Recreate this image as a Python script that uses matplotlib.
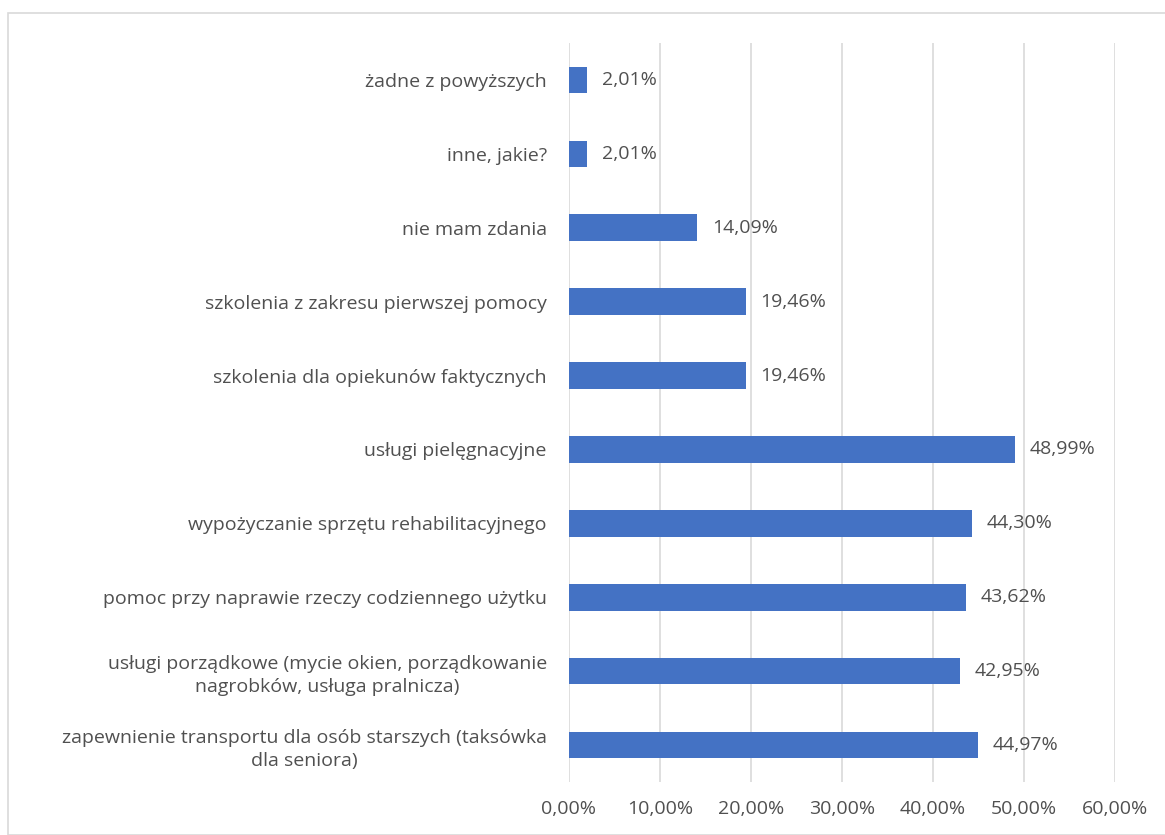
import matplotlib.pyplot as plt
from matplotlib.patches import Rectangle

# data (bottom to top)
categories = [
    'zapewnienie transportu dla osób starszych (taksówka\ndla seniora)',
    'usługi porządkowe (mycie okien, porządkowanie\nnagrobków, usługa pralnicza)',
    'pomoc przy naprawie rzeczy codziennego użytku',
    'wypożyczanie sprzętu rehabilitacyjnego',
    'usługi pielęgnacyjne',
    'szkolenia dla opiekunów faktycznych',
    'szkolenia z zakresu pierwszej pomocy',
    'nie mam zdania',
    'inne, jakie?',
    'żadne z powyższych',
]
values = [44.97, 42.95, 43.62, 44.30, 48.99, 19.46, 19.46, 14.09, 2.01, 2.01]
xticks = [0, 10, 20, 30, 40, 50, 60]

plt.rcParams['font.family'] = ['Open Sans', 'DejaVu Sans']
text_color = '#505050'
bar_color = '#4472C4'
fs = 14

fig = plt.figure(figsize=(11.65, 8.35), dpi=100)
ax = fig.add_axes([0.4884, 0.0635, 0.4686, 0.885])

# outer chart border
fig.patches.append(Rectangle((8 / 1165, 0), 1.2, 1 - 13 / 835, transform=fig.transFigure,
                             fill=False, edgecolor='#D9D9D9', linewidth=1.2))

y = range(len(categories))
ax.barh(y, values, height=0.36, color=bar_color, zorder=3)
for yi, v in zip(y, values):
    ax.text(v + 1.6, yi, f'{v:.2f}%'.replace('.', ','), va='center', ha='left',
            fontsize=fs, color=text_color)

ax.set_xlim(0, 60)
ax.set_ylim(-0.5, len(categories) - 0.5)
ax.set_xticks(xticks)
ax.set_xticklabels([f'{t:.2f}%'.replace('.', ',') for t in xticks], fontsize=fs, color=text_color)
ax.set_yticks(list(y))
ax.set_yticklabels(categories, fontsize=fs, color=text_color, multialignment='center',
                   linespacing=1.35)
ax.tick_params(axis='both', length=0)
ax.tick_params(axis='y', pad=16)
ax.tick_params(axis='x', pad=13)
ax.grid(axis='x', color='#D9D9D9', linewidth=1.2, zorder=0)
for s in ax.spines.values():
    s.set_visible(False)

fig.savefig('out.png', dpi=100)
